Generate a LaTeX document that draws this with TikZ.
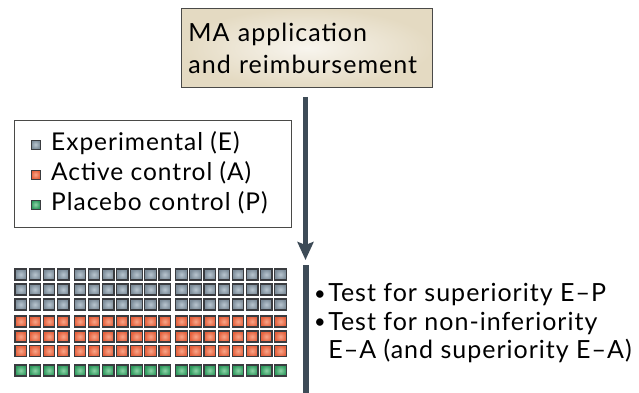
\documentclass[tikz,border=0pt]{standalone}
\usepackage{fontspec}
\setmainfont{Lato}[LetterSpace=4]
\usetikzlibrary{arrows.meta}

\definecolor{barcol}{HTML}{3D4B57}
\definecolor{boxedge}{HTML}{4A4A48}
\definecolor{beigeout}{HTML}{E4DAC2}
\definecolor{beigein}{HTML}{F8F5EE}
\definecolor{expin}{HTML}{B9C6D0}
\definecolor{expout}{HTML}{7C8C99}
\definecolor{actin}{HTML}{F7A68A}
\definecolor{actout}{HTML}{E5603C}
\definecolor{plain}{HTML}{8ED3A8}
\definecolor{plaout}{HTML}{2F9A5E}
\definecolor{sqedge}{HTML}{3A3C40}

\newcommand{\testdot}{\raisebox{1.5pt}{\fontsize{20}{20}\selectfont\textbullet}}

\tikzset{
  mabox/.style={draw=boxedge, line width=0.9pt, inner color=beigein, outer color=beigeout,
    anchor=north west, minimum width=251pt, minimum height=79pt, text width=237pt,
    inner xsep=7pt, align=left, font=\fontsize{25}{32}\selectfont},
  legbox/.style={draw=boxedge, line width=0.9pt, fill=white, anchor=north west,
    minimum width=277pt, minimum height=107pt},
  legtext/.style={anchor=west, inner sep=0pt, font=\fontsize{24.5}{30}\selectfont},
  cell/.style={draw=sqedge, line width=1.2pt},
  flowarrow/.style={draw=barcol, line width=5pt, -{Stealth[length=18pt, width=16pt, inset=3pt]}},
}

\begin{document}
\begin{tikzpicture}[x=1pt, y=-1pt]
  \useasboundingbox (0,0) rectangle (639,393);

  % application box
  \node[mabox] (ma) at (181,8) {MA application\\and reimbursement};

  % legend
  \node[legbox] (legend) at (14,120) {};
  \filldraw[cell, line width=0.9pt, inner color=expin, outer color=expout] (31,140) rectangle (40,149);
  \filldraw[cell, line width=0.9pt, inner color=actin, outer color=actout] (31,170) rectangle (40,179);
  \filldraw[cell, line width=0.9pt, inner color=plain, outer color=plaout] (31,200) rectangle (40,209);
  \node[legtext] (legE) at (51,143) {Experimental (E)};
  \node[legtext] (legA) at (51,173) {Active control (A)};
  \node[legtext] (legP) at (51,203) {Placebo control (P)};

  % arrow and bar
  \coordinate (tip) at (305.5,260);
  \draw[flowarrow, shorten <=9pt] (ma.south -| tip) -- (tip);
  \fill[barcol] (302.5,265) rectangle (308.5,393);

  % patients
  \foreach \row/\cin/\cout in {269/expin/expout, 284/expin/expout, 299/expin/expout,
      316/actin/actout, 331/actin/actout, 345.5/actin/actout, 365/plain/plaout} {
    \foreach \i in {0,...,18} {
      \pgfmathsetmacro\xx{15+14.15*\i+2.5*(\i>3)+2.5*(\i>10)}
      \filldraw[cell, inner color=\cin, outer color=\cout] (\xx,\row) rectangle ++(11.5,11);
    }
  }

  % tests
  \node[anchor=west, inner sep=0pt, font=\fontsize{25}{28.5}\selectfont] (tests) at (314,324.5)
    {\begin{tabular}{@{}l@{\hspace{2.5pt}}l@{}}
      \testdot & Test for superiority E–P\\
      \testdot & Test for non-inferiority\\
      & E–A (and superiority E–A)
    \end{tabular}};
\end{tikzpicture}
\end{document}
